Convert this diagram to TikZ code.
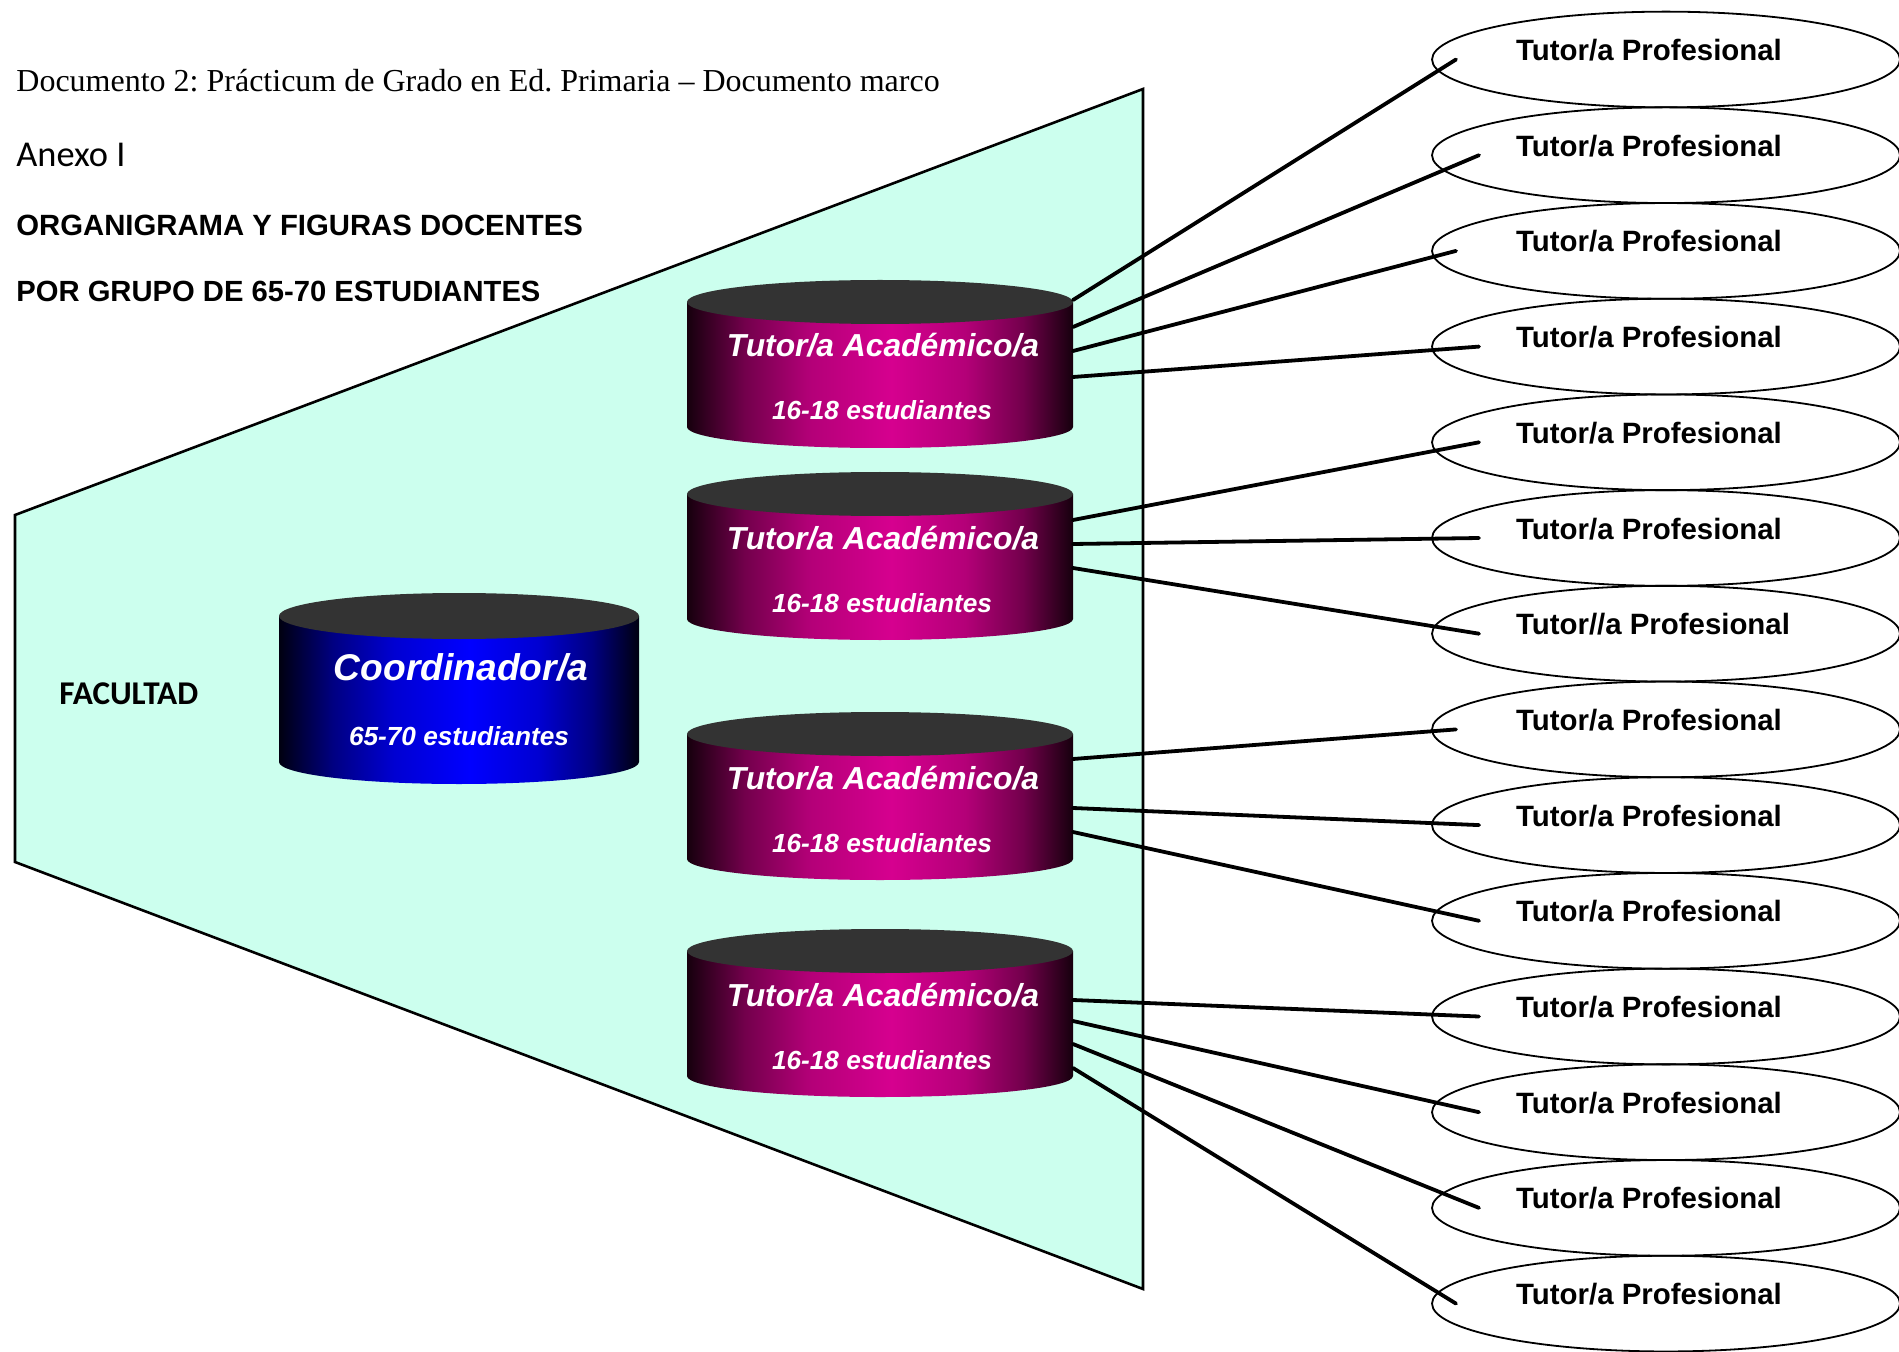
\documentclass[tikz,border=0pt]{standalone}
\usepackage{fontspec}
\setmainfont{Liberation Serif}
\newfontfamily\arialf{Liberation Sans}
\newfontfamily\carlitof{Carlito}
\usetikzlibrary{calc,shapes.geometric}
\frenchspacing
\definecolor{mint}{RGB}{204,255,238}
\definecolor{capgray}{RGB}{51,51,51}
\definecolor{magmid}{RGB}{214,0,143}
\definecolor{magb}{RGB}{180,0,120}
\definecolor{magc}{RGB}{115,0,76}
\definecolor{magedge}{RGB}{22,0,13}
\definecolor{bluemid}{RGB}{0,0,255}
\definecolor{blueb}{RGB}{0,0,210}
\definecolor{bluec}{RGB}{0,0,130}
\definecolor{blueedge}{RGB}{0,0,16}
\pgfdeclarehorizontalshading{magshade}{100bp}{color(0bp)=(magedge); color(25bp)=(magedge); color(32.5bp)=(magc); color(41bp)=(magb); color(51.5bp)=(magmid); color(61bp)=(magb); color(68.5bp)=(magc); color(75bp)=(magedge); color(100bp)=(magedge)}
\pgfdeclarehorizontalshading{blueshade}{100bp}{color(0bp)=(blueedge); color(25bp)=(blueedge); color(32.5bp)=(bluec); color(41bp)=(blueb); color(51.5bp)=(bluemid); color(61bp)=(blueb); color(68.5bp)=(bluec); color(75bp)=(blueedge); color(100bp)=(blueedge)}
% name, cx, y top-ellipse centre, y bottom-ellipse centre, rx (units), ry top (pt), ry bottom (pt), shading
\newcommand\mkcyl[8]{%
  \pgfmathsetmacro\cylrx{#5/2}%
  \path[shading=#8]
    ({#2-#5},#3) -- ({#2-#5},#4)
    arc[start angle=180, end angle=360, x radius=\cylrx pt, y radius=#7pt]
    -- ({#2+#5},#3) -- cycle;
  \fill[capgray] (#2,#3) ellipse[x radius=\cylrx pt, y radius=#6pt];
  \node[inner sep=0pt, outer sep=0pt, minimum width=#5pt, minimum height={(#4-#3)*0.5pt}] (#1) at (#2,{(#3+#4)/2}) {};
}
\tikzset{
  conn/.style={line width=1.9pt, line cap=round},
  prof/.style={ellipse, draw, line width=0.9pt, inner sep=0pt, outer sep=0pt,
    minimum width=234pt, minimum height=47.85pt},
  proftext/.style={anchor=base, inner sep=0pt, font=\arialf\bfseries\fontsize{14.7pt}{17pt}\selectfont},
  cyltitle/.style={anchor=base, inner sep=0pt, text=white, font=\arialf\bfseries\itshape\fontsize{15.9pt}{18pt}\selectfont},
  cylsub/.style={anchor=base, inner sep=0pt, text=white, font=\arialf\bfseries\itshape\fontsize{13.1pt}{15pt}\selectfont},
  hdr/.style={anchor=base west, inner sep=0pt},
}
\begin{document}
\begin{tikzpicture}[x=0.5pt, y=-0.5pt]
\useasboundingbox (0,0) rectangle (1899,1352);
\fill[white] (0,0) rectangle (1899,1352);

% Facultad trapezoid
\draw[fill=mint, line width=1.3pt, line join=miter] (15,515) -- (1143,89) -- (1143,1289) -- (15,862) -- cycle;

% header texts
\node[hdr, font=\fontsize{16pt}{19pt}\selectfont] (h1) at (16,92) {Documento 2: Prácticum de Grado en Ed. Primaria – Documento marco};
\node[hdr, font=\carlitof\fontsize{18.2pt}{21pt}\selectfont] (h2) at (16,167) {Anexo I};
\node[hdr, font=\arialf\bfseries\fontsize{14.65pt}{17pt}\selectfont] (h3) at (16,236) {ORGANIGRAMA Y FIGURAS DOCENTES};
\node[hdr, font=\arialf\bfseries\fontsize{14.6pt}{17pt}\selectfont] (h4) at (16,302) {POR GRUPO DE 65-70 ESTUDIANTES};
\node[hdr, font=\carlitof\bfseries\fontsize{16.6pt}{19pt}\selectfont] (fac) at (59,704) {FACULTAD};

% cylinders
\mkcyl{coord}{459}{616}{762}{180}{11.5}{11}{blueshade}
\mkcyl{t1}{880}{302}{427}{193}{11}{10.5}{magshade}
\mkcyl{t2}{880}{494}{619}{193}{11}{10.5}{magshade}
\mkcyl{t3}{880}{734}{859}{193}{11}{10.5}{magshade}
\mkcyl{t4}{880}{951}{1076}{193}{11}{10.5}{magshade}

\node[cyltitle, font=\arialf\bfseries\itshape\fontsize{18.6pt}{21pt}\selectfont] (ctitle) at (461,680) {Coordinador/a};
\node[cylsub] (csub) at (459,745) {65-70 estudiantes};
\foreach \n/\T in {1/280,2/472,3/712,4/929}{
  \node[cyltitle] (tt\n) at (883,{\T+77}) {Tutor/a Académico/a};
  \node[cylsub] (ts\n) at (882,{\T+140}) {16-18 estudiantes};
}

% professional tutors
\foreach \k in {1,...,14}{
  \node[prof] (p\k) at (1666,{59.5+95.7*(\k-1)}) {};
}
\foreach \k in {1,...,6,8,9,10,11,12,13,14}{
  \node[proftext] (l\k) at ($(p\k.center)+(-17,1)$) {Tutor/a Profesional};
}
\node[proftext] (l7) at ($(p7.center)+(-13,1)$) {Tutor//a Profesional};

% connectors
\draw[conn] ($(t1.east)+(0,-64.5)$) -- ($(p1.west)+(24,0)$);
\draw[conn] ($(t1.east)+(0,-37.5)$) -- ($(p2.west)+(47,0)$);
\draw[conn] ($(t1.east)+(0,-13.5)$) -- ($(p3.west)+(24,0)$);
\draw[conn] ($(t1.east)+(0,12.5)$) -- ($(p4.west)+(47,0)$);
\draw[conn] ($(t2.east)+(0,-36.5)$) -- ($(p5.west)+(47,0)$);
\draw[conn] ($(t2.east)+(0,-12.5)$) -- ($(p6.west)+(47,0)$);
\draw[conn] ($(t2.east)+(0,11.5)$) -- ($(p7.west)+(47,0)$);
\draw[conn] ($(t3.east)+(0,-37.5)$) -- ($(p8.west)+(24,0)$);
\draw[conn] ($(t3.east)+(0,11.5)$) -- ($(p9.west)+(47,0)$);
\draw[conn] ($(t3.east)+(0,35.5)$) -- ($(p10.west)+(47,0)$);
\draw[conn] ($(t4.east)+(0,-13.5)$) -- ($(p11.west)+(47,0)$);
\draw[conn] ($(t4.east)+(0,7.5)$) -- ($(p12.west)+(47,0)$);
\draw[conn] ($(t4.east)+(0,30.5)$) -- ($(p13.west)+(47,0)$);
\draw[conn] ($(t4.east)+(0,54.5)$) -- ($(p14.west)+(24,0)$);
\end{tikzpicture}
\end{document}
